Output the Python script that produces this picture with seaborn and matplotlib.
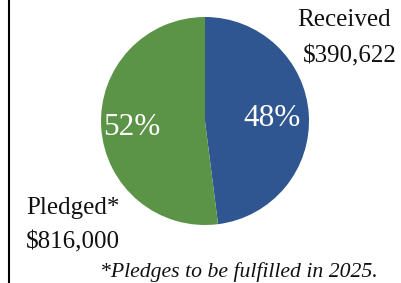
import matplotlib
matplotlib.use("Agg")
import matplotlib.pyplot as plt
import seaborn as sns

categories = ["Received", "Pledged*"]
percents = [48, 52]
amounts = ["$390,622", "$816,000"]
colors = ["#2F5690", "#5B9447"]
footnote = "*Pledges to be fulfilled in 2025."

sns.set_theme(style="white")
plt.rcParams["font.family"] = ["Liberation Serif", "DejaVu Serif"]

W, H = 402, 283
fig = plt.figure(figsize=(W / 100, H / 100), dpi=100)
ax = fig.add_axes([0, 0, 1, 1])

cx, cy, r = 205, H - 121, 104
wedges, _ = ax.pie(percents, colors=colors, startangle=90, counterclock=False,
                   center=(cx, cy), radius=r, frame=True,
                   wedgeprops=dict(linewidth=0))
ax.set_xlim(0, W)
ax.set_ylim(0, H)
ax.set_aspect("equal")
ax.axis("off")

# percent labels
ax.text(272, H - 119, f"{percents[0]}%", color="white", fontsize=22.5,
        ha="center", va="center")
ax.text(131.5, H - 128, f"{percents[1]}%", color="white", fontsize=22.5,
        ha="center", va="center")

# category labels
fs = 18
ax.text(344.5, H - 20, categories[0], fontsize=fs, ha="center", va="center", color="#111111")
ax.text(349.5, H - 56, amounts[0], fontsize=fs, ha="center", va="center", color="#111111")
ax.text(26, H - 208, categories[1], fontsize=fs, ha="left", va="center", color="#111111")
ax.text(26, H - 242, amounts[1], fontsize=fs, ha="left", va="center", color="#111111")

ax.text(239, H - 272, footnote, fontsize=15.7, style="italic", ha="center", va="center",
        color="#111111")

ax.plot([9.5, 9.5], [0, H], color="black", linewidth=1.5, solid_capstyle="butt")

fig.savefig("out.png", dpi=100)
